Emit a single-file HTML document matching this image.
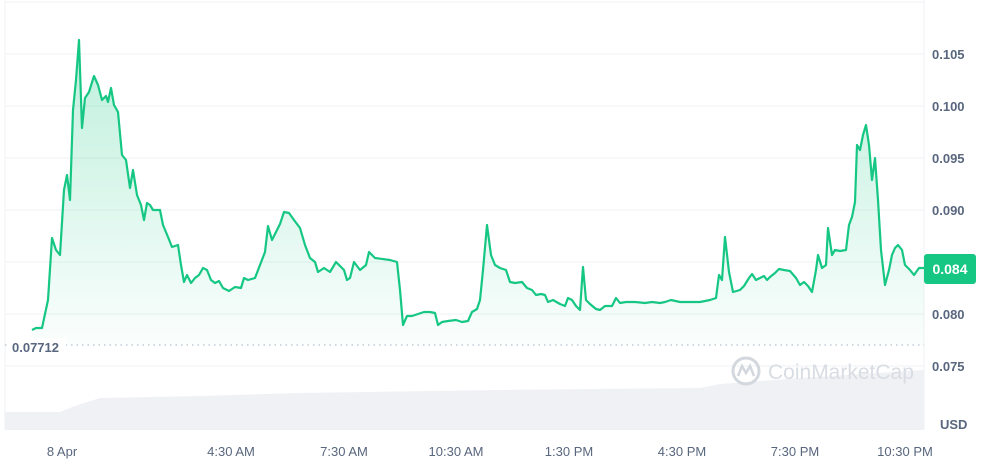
<!DOCTYPE html>
<html><head><meta charset="utf-8"><style>
body{margin:0;background:#fff;width:991px;height:463px;overflow:hidden;font-family:"Liberation Sans",sans-serif}
</style></head><body>
<svg width="991" height="463" viewBox="0 0 991 463" xmlns="http://www.w3.org/2000/svg" font-family="Liberation Sans, sans-serif">
<defs>
<linearGradient id="g" x1="0" y1="0" x2="0" y2="1">
<stop offset="0" stop-color="#16c784" stop-opacity="0.28"/>
<stop offset="1" stop-color="#16c784" stop-opacity="0.02"/>
</linearGradient>
</defs>
<line x1="5" y1="2" x2="924" y2="2" stroke="#eff2f5"/>
<line x1="5" y1="0" x2="5" y2="430" stroke="#eff2f5"/>
<line x1="924" y1="0" x2="924" y2="430" stroke="#eff2f5"/>
<g stroke="#eff2f5">
<line x1="5" y1="54" x2="924" y2="54"/><line x1="5" y1="106" x2="924" y2="106"/>
<line x1="5" y1="158" x2="924" y2="158"/><line x1="5" y1="210" x2="924" y2="210"/>
<line x1="5" y1="262" x2="924" y2="262"/><line x1="5" y1="314" x2="924" y2="314"/>
<line x1="5" y1="366" x2="924" y2="366"/>
</g>
<path d="M5,412 L60,412 L75,406 L100,398 L200,396 L300,393 L500,390 L700,388 L720,384 L800,378 L924,370 L924,430 L5,430Z" fill="#f0f1f5"/>
<g fill="none" stroke="#d3d7de" stroke-width="3"><circle cx="746" cy="371" r="13"/><path d="M738,376 L742,366 L746,373 L750,366 L754,376" stroke-width="2.5"/></g>
<text x="768" y="379" font-size="21" fill="#d8dce3">CoinMarketCap</text>
<polyline fill="none" stroke="#16c784" stroke-width="2.2" stroke-linejoin="round" points="32,330 36,328 42,328 48,300 52,238 56,250 60,255 64,190 67,175 70,200 73,110 76,80 79,40 82,128 85,98 89,92 94,76 98,85 102,100 106,96 108,102 111,88 114,105 118,112 122,155 126,160 130,188 133,170 137,195 141,205 144,220 147,203 150,205 153,210 160,210 163,225 168,237 172,247 178,245 181,265 184,282 187,275 191,283 195,278 199,275 203,268 207,270 211,280 215,283 219,281 223,288 229,291 235,287 241,288 244,278 248,280 255,278 260,265 265,252 268,226 272,240 276,232 280,224 284,212 289,213 294,220 300,228 305,245 310,258 315,262 318,272 324,268 330,272 336,262 340,266 344,270 347,280 350,278 354,262 360,270 366,265 369,252 375,258 390,260 397,262 400,290 403,325 407,316 412,316 418,314 424,312 430,312 435,313 438,325 442,322 448,321 456,320 462,322 468,321 472,312 477,309 480,300 483,270 487,225 491,255 495,265 500,268 506,270 510,282 515,283 522,282 527,288 532,290 536,295 541,294 545,295 548,302 553,300 560,304 565,306 568,298 572,300 576,306 580,310 583,267 586,300 590,304 596,309 600,310 605,306 612,306 616,298 620,303 626,302 635,302 645,303 652,302 660,303 665,302 671,300 680,302 700,302 710,300 716,298 719,275 722,280 725,237 729,272 733,292 740,290 744,286 749,278 752,274 756,280 760,278 764,276 767,280 770,277 775,273 779,269 784,270 790,271 796,278 800,285 804,282 808,286 812,292 816,270 818,255 822,268 826,265 828,228 832,255 835,250 840,251 846,250 849,225 852,217 855,202 857,145 860,150 863,135 866,125 869,145 872,180 875,158 878,200 881,250 885,285 889,270 892,255 895,248 898,245 902,250 905,265 910,270 914,275 919,268 924,268"/>
<path fill="url(#g)" d="M32,345 L32,330 36,328 42,328 48,300 52,238 56,250 60,255 64,190 67,175 70,200 73,110 76,80 79,40 82,128 85,98 89,92 94,76 98,85 102,100 106,96 108,102 111,88 114,105 118,112 122,155 126,160 130,188 133,170 137,195 141,205 144,220 147,203 150,205 153,210 160,210 163,225 168,237 172,247 178,245 181,265 184,282 187,275 191,283 195,278 199,275 203,268 207,270 211,280 215,283 219,281 223,288 229,291 235,287 241,288 244,278 248,280 255,278 260,265 265,252 268,226 272,240 276,232 280,224 284,212 289,213 294,220 300,228 305,245 310,258 315,262 318,272 324,268 330,272 336,262 340,266 344,270 347,280 350,278 354,262 360,270 366,265 369,252 375,258 390,260 397,262 400,290 403,325 407,316 412,316 418,314 424,312 430,312 435,313 438,325 442,322 448,321 456,320 462,322 468,321 472,312 477,309 480,300 483,270 487,225 491,255 495,265 500,268 506,270 510,282 515,283 522,282 527,288 532,290 536,295 541,294 545,295 548,302 553,300 560,304 565,306 568,298 572,300 576,306 580,310 583,267 586,300 590,304 596,309 600,310 605,306 612,306 616,298 620,303 626,302 635,302 645,303 652,302 660,303 665,302 671,300 680,302 700,302 710,300 716,298 719,275 722,280 725,237 729,272 733,292 740,290 744,286 749,278 752,274 756,280 760,278 764,276 767,280 770,277 775,273 779,269 784,270 790,271 796,278 800,285 804,282 808,286 812,292 816,270 818,255 822,268 826,265 828,228 832,255 835,250 840,251 846,250 849,225 852,217 855,202 857,145 860,150 863,135 866,125 869,145 872,180 875,158 878,200 881,250 885,285 889,270 892,255 895,248 898,245 902,250 905,265 910,270 914,275 919,268 924,268 L924,345 Z"/>
<line x1="5" y1="345" x2="924" y2="345" stroke="#a6b0c3" stroke-dasharray="1.5,4"/>
<rect x="10" y="338" width="56" height="16" fill="#fff"/>
<text x="12" y="352" font-size="13" fill="#58667e" font-weight="bold">0.07712</text>
<g font-size="13" fill="#58667e" font-weight="bold">
<text x="932" y="59">0.105</text><text x="932" y="111">0.100</text>
<text x="932" y="163">0.095</text><text x="932" y="215">0.090</text>
<text x="932" y="319">0.080</text><text x="932" y="371">0.075</text>
<text x="940" y="429">USD</text>
</g>
<rect x="924" y="254" width="52" height="30" rx="3" fill="#16c784"/>
<text x="950" y="274" font-size="14" fill="#fff" font-weight="bold" text-anchor="middle">0.084</text>
<g font-size="13" fill="#58667e" text-anchor="middle">
<text x="62" y="456">8 Apr</text><text x="231" y="456">4:30 AM</text>
<text x="344" y="456">7:30 AM</text><text x="456" y="456">10:30 AM</text>
<text x="569" y="456">1:30 PM</text><text x="682" y="456">4:30 PM</text>
<text x="795" y="456">7:30 PM</text><text x="905" y="456">10:30 PM</text>
</g>
</svg>
</body></html>
